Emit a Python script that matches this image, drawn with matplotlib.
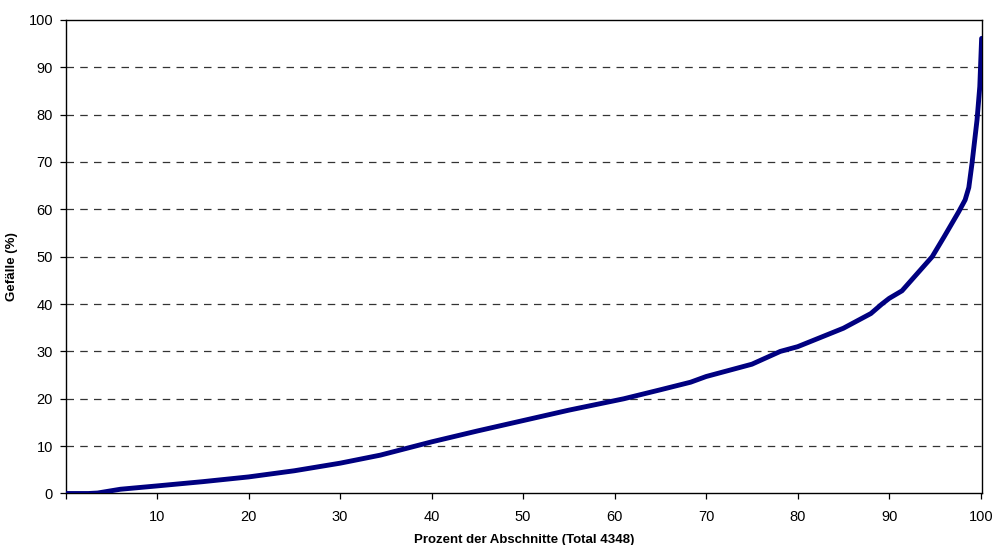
import matplotlib
matplotlib.use("Agg")
import matplotlib.pyplot as plt

plt.rcParams["font.family"] = ["Liberation Sans", "DejaVu Sans"]

# values (percent of sections vs. slope)
PERCENT = [0, 2.5, 3.5, 6, 10, 15, 20, 25, 30, 34.4, 40, 45, 50, 55, 61, 65,
           68.3, 70, 75, 78.1, 80, 85, 88, 89.2, 90, 91.4, 92.5, 93.6, 94.7,
           96.0, 97.6, 98.3, 98.7, 99.05, 99.6, 99.9, 100.1]
SLOPE = [0, 0, 0.1, 0.9, 1.6, 2.5, 3.5, 4.8, 6.4, 8.1, 10.9, 13.2, 15.4, 17.6,
         20, 21.9, 23.5, 24.7, 27.3, 30, 31, 34.9, 38, 40, 41.2, 42.8, 45.2,
         47.6, 50, 54.2, 59.5, 62.0, 64.6, 69.7, 78.9, 85.9, 96.1]
X_TICKS = [0, 10, 20, 30, 40, 50, 60, 70, 80, 90, 100]
X_TICK_LABELS = ["", "10", "20", "30", "40", "50", "60", "70", "80", "90", "100"]
Y_TICKS = [0, 10, 20, 30, 40, 50, 60, 70, 80, 90, 100]

fig = plt.figure(figsize=(9.93, 5.45), dpi=100)
ax = fig.add_axes([0.066, 0.0945, 0.923, 0.869])

ax.plot(PERCENT, SLOPE, color="#000080", linewidth=3.5, solid_capstyle="round",
        solid_joinstyle="round", zorder=3)

ax.set_xlim(0, 100.15)
ax.set_ylim(0, 100)
ax.set_xticks(X_TICKS)
ax.set_xticklabels(X_TICK_LABELS)
ax.set_yticks(Y_TICKS)

for y in Y_TICKS[1:-1]:
    ax.axhline(y, color="#333333", linewidth=0.9, linestyle=(0, (6, 5)), zorder=1)

for s in ax.spines.values():
    s.set_color("black")
    s.set_linewidth(1.0)

ax.tick_params(axis="x", direction="out", length=4, width=0.9, pad=8, labelsize=10.5)
ax.tick_params(axis="y", direction="out", length=4, width=0.9, pad=5, labelsize=10.5)

ax.set_xlabel("Prozent der Abschnitte (Total 4348)", fontsize=9.5, fontweight="bold")
ax.set_ylabel("Gefälle (%)", fontsize=9.5, fontweight="bold")
ax.xaxis.set_label_coords(0.5, -0.085)
ax.yaxis.set_label_coords(-0.052, 0.48)

fig.savefig("out.png", dpi=100)
